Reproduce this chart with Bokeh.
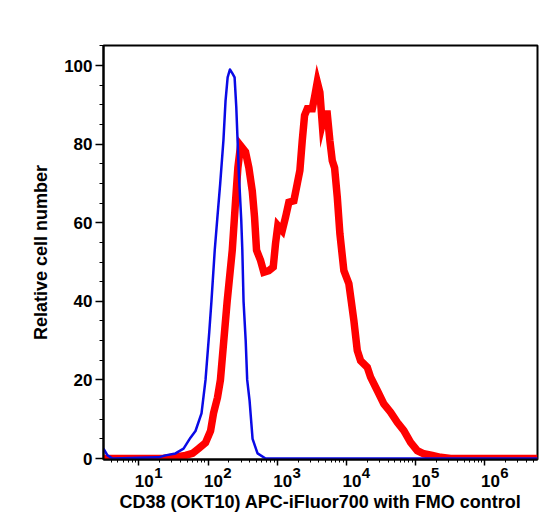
from bokeh.plotting import figure
from bokeh.models import (LogAxis, Range1d, FixedTicker, SingleIntervalTicker,
                          LogScale, ColumnDataSource)
from bokeh.embed import file_html
from bokeh.resources import INLINE
import math

# ---- data ----
fmo_x = [3.09, 3.53, 4.17, 19.3, 24.3, 33.9, 44.3, 55.8, 65.9, 80.5, 92, 104, 112,
         125, 136, 150, 167, 179, 192, 207, 225, 242, 256, 279, 302, 313, 326, 350,
         368, 398, 440, 519, 678, 5.75e6]
fmo_y = [2.5, 0.8, 0, 0.3, 0.8, 1.3, 2.5, 5.3, 7, 11.5, 20, 32, 40,
         53, 61, 70, 81, 91, 97, 99, 98, 97, 89.4, 72.5, 60.6, 53, 40, 30,
         20, 14.8, 5, 1.3, 0, 0]

cd38_x = [3.09, 22, 30.7, 47.3, 59.7, 72.9, 92, 108.7, 120, 137, 151, 189, 224, 250,
          270, 295, 348, 389, 436, 470, 502, 574, 640, 756, 875, 944, 1020, 1181,
          1318, 1472, 1738, 1945, 2123, 2297, 2481, 2716, 3207, 3462, 3787, 4128,
          4467, 4826, 5280, 5758, 6237, 6735, 7366, 8035, 9171, 10830, 11730, 12790,
          14320, 15990, 19990, 22300, 27860, 34670, 43350, 54170, 67490, 84330,
          105400, 131300, 173800, 229000, 320000, 5.75e6]
cd38_y = [0, 0, 0.3, 0.8, 1.3, 2.5, 4, 7, 11.5, 15.5, 20, 40, 53, 65.6,
          74, 79.6, 78, 74, 68, 61.4, 53, 50.4, 47.4, 47.8, 48.7, 54.7, 59.3, 58,
          61.4, 65.2, 65.6, 69.9, 73.3, 80.9, 87.3, 89, 89, 92, 95.8, 93.2,
          85.2, 87.7, 87.7, 80.9, 75.8, 74, 66.5, 57.2, 47.8, 44.5, 40, 35.1,
          27.5, 24.9, 23.2, 20.7, 17.3, 13.9, 11.8, 9.2, 7.1, 4.1,
          2, 1.2, 0.8, 0.3, 0, 0]

major_ticks = [10, 100, 1000, 10000, 100000, 1000000]
exponent_labels = ["1", "2", "3", "4", "5", "6"]
base_label = "10"
minor_ticks = [m * 10 ** k for k in range(0, 7) for m in range(2, 10)]

x_title = "CD38 (OKT10) APC-iFluor700 with FMO control"
y_title = "Relative cell number"

# ---- layout constants ----
x_start, x_end = 3.09, 5.75e6
y_start, y_end = -0.25, 105.1
FONT = "Liberation Sans"
frame_w = 434
px_per_decade = frame_w / (math.log10(x_end) - math.log10(x_start))
exp_shift = 10 ** (19.5 / px_per_decade)
base_shift = 10 ** (5.5 / px_per_decade)

p = figure(width=557, height=530, x_axis_type="log",
           x_range=Range1d(x_start, x_end), y_range=Range1d(y_start, y_end),
           output_backend="svg", toolbar_location=None,
           min_border_left=103, min_border_right=20, min_border_top=45,
           min_border_bottom=71)
p.grid.visible = False
p.outline_line_color = "black"
p.outline_line_width = 2
p.background_fill_color = "white"
p.border_fill_color = "white"

# main x axis: ticks only
ax = p.xaxis[0]
ax.ticker = FixedTicker(ticks=major_ticks, minor_ticks=minor_ticks)
ax.axis_line_width = 2
ax.major_tick_line_width = 1.5
ax.minor_tick_line_width = 1
ax.major_tick_out = 6
ax.major_tick_in = 0
ax.minor_tick_out = 3
ax.minor_tick_in = 0
ax.major_label_overrides = {t: "" for t in major_ticks}
ax.major_label_text_font_size = "1px"
ax.major_label_standoff = 0

p.extra_x_ranges = {"exp": Range1d(x_start / exp_shift, x_end / exp_shift),
                    "base": Range1d(x_start / base_shift, x_end / base_shift)}
p.extra_x_scales = {"exp": LogScale(), "base": LogScale()}


def label_axis(name, labels, size, standoff):
    return LogAxis(x_range_name=name,
                   ticker=FixedTicker(ticks=major_ticks, minor_ticks=[]),
                   major_label_overrides={t: l for t, l in zip(major_ticks, labels)},
                   axis_line_color=None, major_tick_line_color=None,
                   minor_tick_line_color=None, major_tick_out=0, major_tick_in=0,
                   minor_tick_out=0, minor_tick_in=0,
                   major_label_standoff=standoff,
                   major_label_text_font=FONT, major_label_text_font_style="bold",
                   major_label_text_font_size=size, major_label_text_color="black")


exp_axis = label_axis("exp", exponent_labels, "15px", 2)
base_axis = label_axis("base", [base_label] * len(major_ticks), "17px", -6)
base_axis.axis_label = x_title
base_axis.axis_label_text_font = FONT
base_axis.axis_label_text_font_style = "bold"
base_axis.axis_label_text_font_size = "18px"
base_axis.axis_label_text_color = "black"
base_axis.axis_label_standoff = 2
p.add_layout(exp_axis, "below")
p.add_layout(base_axis, "below")

# y axis
ay = p.yaxis[0]
ay.ticker = SingleIntervalTicker(interval=20, num_minor_ticks=4)
ay.axis_line_width = 2
ay.major_tick_line_width = 1.5
ay.minor_tick_line_width = 1
ay.major_tick_out = 8
ay.major_tick_in = 0
ay.minor_tick_out = 4
ay.minor_tick_in = 0
ay.major_label_standoff = 3
ay.major_label_text_font = FONT
ay.major_label_text_font_style = "bold"
ay.major_label_text_font_size = "17px"
ay.major_label_text_color = "black"
ay.axis_label = y_title
ay.axis_label_text_font = FONT
ay.axis_label_text_font_style = "bold"
ay.axis_label_text_font_size = "18px"
ay.axis_label_text_color = "black"
ay.axis_label_standoff = 10

src_cd38 = ColumnDataSource(dict(x=cd38_x, y=cd38_y))
src_fmo = ColumnDataSource(dict(x=fmo_x, y=fmo_y))
p.line("x", "y", source=src_cd38, line_color="#ff0000", line_width=7.5,
       line_join="miter")
p.line("x", "y", source=src_fmo, line_color="#0a0ae6", line_width=2.5,
       line_join="round")

open("out.html", "w").write(file_html(p, INLINE))
